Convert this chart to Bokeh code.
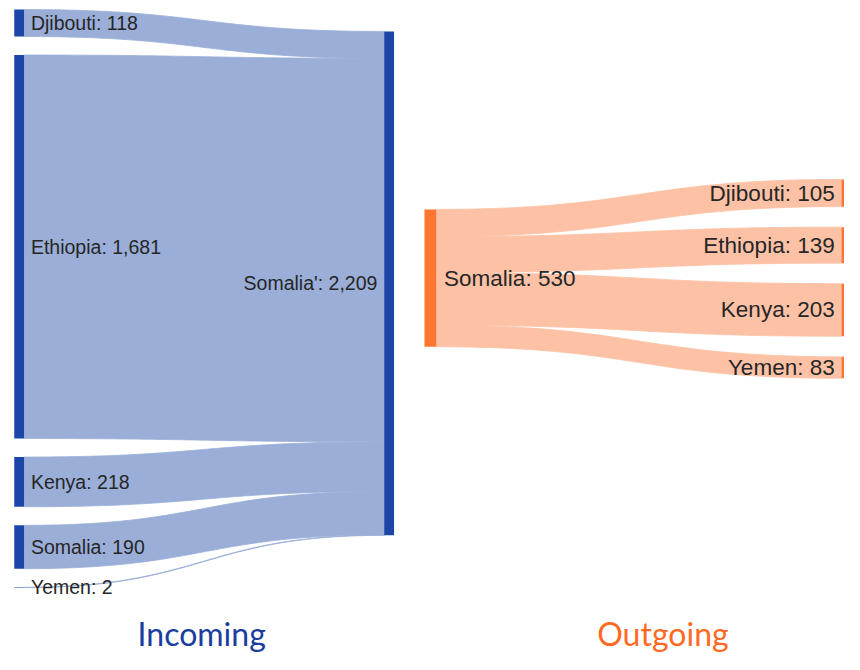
import numpy as np
from bokeh.plotting import figure
from bokeh.models import Range1d, ColumnDataSource
from bokeh.core.properties import value
from bokeh.embed import file_html
from bokeh.resources import INLINE

# ---------------- data ----------------
in_sources = ["Djibouti", "Ethiopia", "Kenya", "Somalia", "Yemen"]
in_values = [118, 1681, 218, 190, 2]
in_target = "Somalia'"

out_source = "Somalia"
out_targets = ["Djibouti", "Ethiopia", "Kenya", "Yemen"]
out_values = [105, 139, 203, 83]

titles = ["Incoming", "Outgoing"]

# ---------------- style / layout ----------------
W, H = 844, 654          # canvas size in screen px
VW, VH = 860, 670        # layout units
BLUE_NODE, BLUE_LINK, BLUE_TITLE = "#1b45a7", "#9aaed8", "#1a3d9e"
ORANGE_NODE, ORANGE_LINK, ORANGE_TITLE = "#fd7632", "#fdc1a5", "#ff6a22"
LABEL_FONT = "Liberation Sans"
TITLE_FONT = "Lato"
LABEL_COLOR = "#262626"

p = figure(width=W, height=H, output_backend="svg", toolbar_location=None,
           x_range=Range1d(0, VW), y_range=Range1d(VH, 0),
           min_border=0, min_border_left=0, min_border_right=0,
           min_border_top=0, min_border_bottom=0)
p.axis.visible = False
p.grid.visible = False
p.outline_line_color = None
p.background_fill_color = "white"
p.border_fill_color = "white"


def bezier_band(x0, y0t, y0b, x1, y1t, y1b, n=60):
    t = np.linspace(0, 1, n)
    xm = (x0 + x1) / 2.0

    def curve(ya, yb):
        xs = (1 - t) ** 3 * x0 + 3 * (1 - t) ** 2 * t * xm + 3 * (1 - t) * t ** 2 * xm + t ** 3 * x1
        ys = (1 - t) ** 3 * ya + 3 * (1 - t) ** 2 * t * ya + 3 * (1 - t) * t ** 2 * yb + t ** 3 * yb
        return xs, ys

    xt, yt = curve(y0t, y1t)
    xb, yb = curve(y0b, y1b)
    return list(xt) + list(xb[::-1]), list(yt) + list(yb[::-1])


def stack(values, top, gap, scale):
    tops, bots = [], []
    y = top
    for v in values:
        tops.append(y)
        y += v * scale
        bots.append(y)
        y += gap
    return tops, bots


# ---------------- incoming (many -> one) ----------------
L = dict(src_x=14, w=10, src_top=9.3, gap=19, scale=0.2337, tgt_x=391, tgt_top=31.7,
         font="19.5px", pad=7)
s_tops, s_bots = stack(in_values, L["src_top"], L["gap"], L["scale"])
t_tops, t_bots = stack(in_values, L["tgt_top"], 0, L["scale"])

xs, ys = [], []
for i in range(len(in_values)):
    bx, by = bezier_band(L["src_x"] + L["w"], s_tops[i], s_bots[i],
                         L["tgt_x"], t_tops[i], t_bots[i])
    xs.append(bx)
    ys.append(by)
p.patches(xs, ys, fill_color=BLUE_LINK, line_color=BLUE_LINK, line_width=0.8)

src_in = ColumnDataSource(dict(
    left=[L["src_x"]] * len(in_values), right=[L["src_x"] + L["w"]] * len(in_values),
    top=s_tops, bottom=s_bots,
    lab=[f"{n}: {v:,}" for n, v in zip(in_sources, in_values)],
    lx=[L["src_x"] + L["w"] + L["pad"]] * len(in_values),
    ly=[(a + b) / 2 for a, b in zip(s_tops, s_bots)]))
p.quad(left="left", right="right", top="top", bottom="bottom", source=src_in,
       fill_color=BLUE_NODE, line_color=None)
p.text(x="lx", y="ly", text="lab", source=src_in, text_font=value(LABEL_FONT),
       text_font_size=L["font"], text_color=LABEL_COLOR, text_baseline="middle",
       text_align="left")

tot_in = sum(in_values)
p.quad(left=[L["tgt_x"]], right=[L["tgt_x"] + L["w"]], top=[L["tgt_top"]],
       bottom=[L["tgt_top"] + tot_in * L["scale"]], fill_color=BLUE_NODE, line_color=None)
p.text(x=[L["tgt_x"] - L["pad"]], y=[L["tgt_top"] + tot_in * L["scale"] / 2],
       text=[f"{in_target}: {tot_in:,}"], text_font=value(LABEL_FONT),
       text_font_size=L["font"], text_color=LABEL_COLOR, text_baseline="middle",
       text_align="right")

# ---------------- outgoing (one -> many) ----------------
R = dict(src_x=432, w=12, src_top=214, gap=21, scale=0.2655, tgt_x=857, tgt_top=183.3,
         font="22.5px", pad=8, tpad=7)
so_tops, so_bots = stack(out_values, R["src_top"], 0, R["scale"])
to_tops, to_bots = stack(out_values, R["tgt_top"], R["gap"], R["scale"])

xs, ys = [], []
for i in range(len(out_values)):
    bx, by = bezier_band(R["src_x"] + R["w"], so_tops[i], so_bots[i],
                         R["tgt_x"], to_tops[i], to_bots[i])
    xs.append(bx)
    ys.append(by)
p.patches(xs, ys, fill_color=ORANGE_LINK, line_color=ORANGE_LINK, line_width=0.8)

tot_out = sum(out_values)
p.quad(left=[R["src_x"]], right=[R["src_x"] + R["w"]], top=[R["src_top"]],
       bottom=[R["src_top"] + tot_out * R["scale"]], fill_color=ORANGE_NODE, line_color=None)
p.text(x=[R["src_x"] + R["w"] + R["pad"]], y=[R["src_top"] + tot_out * R["scale"] / 2],
       text=[f"{out_source}: {tot_out:,}"], text_font=value(LABEL_FONT),
       text_font_size=R["font"], text_color=LABEL_COLOR, text_baseline="middle",
       text_align="left")

src_out = ColumnDataSource(dict(
    left=[R["tgt_x"]] * len(out_values), right=[R["tgt_x"] + R["w"]] * len(out_values),
    top=to_tops, bottom=to_bots,
    lab=[f"{n}: {v:,}" for n, v in zip(out_targets, out_values)],
    lx=[R["tgt_x"] - R["tpad"]] * len(out_values),
    ly=[(a + b) / 2 for a, b in zip(to_tops, to_bots)]))
p.quad(left="left", right="right", top="top", bottom="bottom", source=src_out,
       fill_color=ORANGE_NODE, line_color=None)
p.text(x="lx", y="ly", text="lab", source=src_out, text_font=value(LABEL_FONT),
       text_font_size=R["font"], text_color=LABEL_COLOR, text_baseline="middle",
       text_align="right")

# ---------------- titles ----------------
p.text(x=[205, 675], y=[648, 648], text=titles, text_font=value(TITLE_FONT),
       text_font_size="32px", text_color=[BLUE_TITLE, ORANGE_TITLE],
       text_baseline="middle", text_align="center")

open("out.html", "w").write(file_html(p, INLINE))
